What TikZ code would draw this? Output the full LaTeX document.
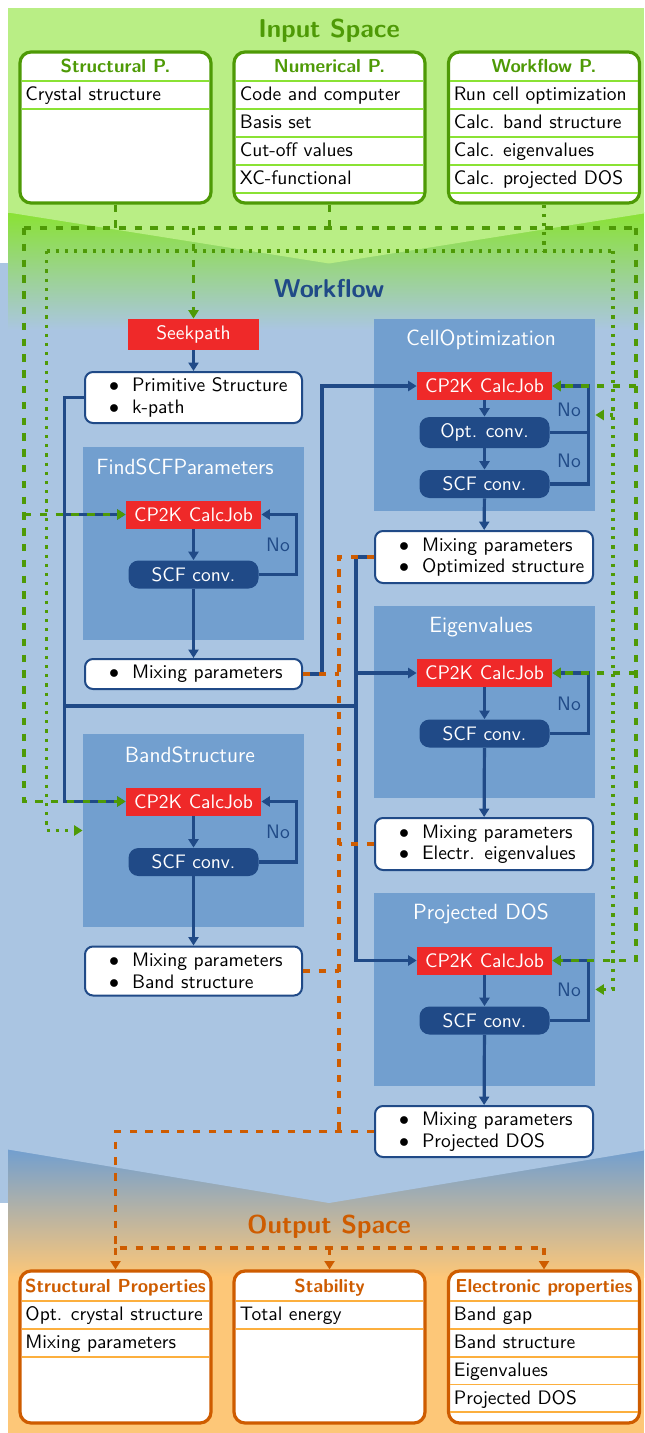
\documentclass[tikz,border=0pt]{standalone}
\usetikzlibrary{arrows.meta}
\definecolor{gdark}{HTML}{4E9A06}
\definecolor{glight}{HTML}{8AE234}
\definecolor{bdark}{HTML}{204A87}
\definecolor{bmid}{HTML}{729FCF}
\definecolor{odark}{HTML}{CE5C00}
\definecolor{olight}{HTML}{FCAF3E}
\definecolor{rred}{HTML}{EF2929}
\colorlet{inbg}{glight!60}
\colorlet{wfbg}{bmid!60}
\colorlet{outbg}{olight!70}
\newcommand{\myitem}{\hspace*{10pt}$\bullet$\hspace{6.5pt}}
\tikzset{
  normfont/.style={font=\sffamily\fontsize{9.75}{10.75}\selectfont},
  sptitle/.style={font=\sffamily\bfseries\fontsize{12.9}{15}\selectfont, inner sep=0pt, anchor=base},
  inbox/.style={draw=gdark, line width=1.6pt, rounded corners=5.5pt, fill=white, minimum width=95.5pt, minimum height=75.5pt, inner sep=0pt},
  outbox/.style={inbox, draw=odark, minimum height=76pt},
  inhead/.style={text=gdark, font=\sffamily\bfseries\fontsize{9.4}{11}\selectfont, inner sep=0pt, anchor=base},
  outhead/.style={inhead, text=odark},
  rowtxt/.style={anchor=base west, inner sep=0pt},
  inrule/.style={draw=glight, line width=0.9pt},
  outrule/.style={draw=olight, line width=0.9pt},
  subbox/.style={fill=bmid, inner sep=0pt, minimum width=110.5pt, minimum height=96.5pt},
  subtitle/.style={text=white, font=\sffamily\fontsize{11}{12.5}\selectfont, inner sep=0pt, anchor=base},
  calcjob/.style={fill=rred, text=white, minimum width=67.5pt, minimum height=14pt, inner sep=0pt},
  conv/.style={fill=bdark, text=white, rounded corners=5pt, minimum width=65pt, minimum height=14pt, inner sep=0pt},
  resbox/.style={draw=bdark, line width=1pt, fill=white, rounded corners=4pt, align=left, text width=104.5pt, inner xsep=2pt, inner ysep=0pt},
  nolab/.style={text=bdark, inner sep=0pt},
  arrowend/.style={-{Triangle[length=4.2pt,width=5pt]}},
  flow/.style={draw=bdark, line width=1.6pt},
  gdash/.style={draw=gdark, line width=1.6pt, dash pattern=on 3.7pt off 4.2pt},
  gdot/.style={draw=gdark, line width=1.7pt, dash pattern=on 1.6pt off 3pt},
  odash/.style={draw=odark, line width=1.8pt, dash pattern=on 3.7pt off 4.2pt},
}
\begin{document}
\begin{tikzpicture}[x=0.5pt,y=-0.5pt,normfont]
\useasboundingbox (0,0) rectangle (644,1433);
\clip (0,0) rectangle (644,1433);
% ---------- backgrounds
\fill[wfbg] (0,263) rectangle (644,1203);
\shade[top color=glight, bottom color=wfbg] (8,212.5) rectangle (644,330);
\fill[inbg] (8,8) rectangle (644,213);
\fill[inbg] (8,200) -- (650,200) -- (650,212.5) -- (329,263.5) -- (8,212.5) -- cycle;
\shade[top color=bmid, bottom color=outbg] (8,1149.5) rectangle (644,1277);
\fill[outbg] (8,1276.5) rectangle (644,1433);
\fill[wfbg] (8,1140) -- (650,1140) -- (650,1149.5) -- (329,1203) -- (8,1149.5) -- cycle;
% ---------- titles
\node[sptitle, text=gdark] (tin) at (329,38) {Input Space};
\node[sptitle, text=bdark] (twf) at (329,297.5) {Workflow};
\node[sptitle, text=odark] (tout) at (329,1233) {Output Space};
% ---------- input boxes
\node[inbox] (sp) at (115.5,127.5) {};
\node[inbox] (np) at (329.5,127.5) {};
\node[inbox] (wp) at (544,127.5) {};
\node[inhead] (sph) at (115.5,72.5) {Structural P.};
\node[inhead] (nph) at (329.5,72.5) {Numerical P.};
\node[inhead] (wph) at (544,72.5) {Workflow P.};
\draw[inrule] (21.6,81) -- (209.4,81);
\draw[inrule] (21.6,109) -- (209.4,109);
\foreach \yy in {81,109,137,165,193} {
  \draw[inrule] (235.6,\yy) -- (423.4,\yy);
  \draw[inrule] (449.6,\yy) -- (638.4,\yy);
}
\node[rowtxt] (sp1) at (25,100.5) {Crystal structure};
\node[rowtxt] (np1) at (239.5,100.5) {Code and computer};
\node[rowtxt] (np2) at (239.5,128.5) {Basis set};
\node[rowtxt] (np3) at (239.5,156.5) {Cut-off values};
\node[rowtxt] (np4) at (239.5,184.5) {XC-functional};
\node[rowtxt] (wp1) at (453.5,100.5) {Run cell optimization};
\node[rowtxt] (wp2) at (453.5,128.5) {Calc. band structure};
\node[rowtxt] (wp3) at (453.5,156.5) {Calc. eigenvalues};
\node[rowtxt] (wp4) at (453.5,184.5) {Calc. projected DOS};
% ---------- output boxes
\node[outbox] (spo) at (115.5,1347) {};
\node[outbox] (sto) at (329.5,1347) {};
\node[outbox] (elo) at (544,1347) {};
\node[outhead] (spoh) at (115.5,1292.5) {Structural Properties};
\node[outhead] (stoh) at (329.5,1292.5) {Stability};
\node[outhead] (eloh) at (544,1292.5) {Electronic properties};
\foreach \yy in {1301,1329,1357} \draw[outrule] (21.6,\yy) -- (209.4,\yy);
\foreach \yy in {1301,1329} \draw[outrule] (235.6,\yy) -- (423.4,\yy);
\foreach \yy in {1301,1329,1357,1384.5,1412} \draw[outrule] (449.6,\yy) -- (638.4,\yy);
\node[rowtxt] (spo1) at (25,1320) {Opt. crystal structure};
\node[rowtxt] (spo2) at (25,1348) {Mixing parameters};
\node[rowtxt] (sto1) at (239.5,1320) {Total energy};
\node[rowtxt] (elo1) at (453.5,1320) {Band gap};
\node[rowtxt] (elo2) at (453.5,1348) {Band structure};
\node[rowtxt] (elo3) at (453.5,1376) {Eigenvalues};
\node[rowtxt] (elo4) at (453.5,1404) {Projected DOS};
% ---------- workflow sub boxes
\node[subbox] (findbox) at (193.5,543.5) {};
\node[subbox] (bandbox) at (193.5,830.5) {};
\node[subbox, minimum height=96pt] (cellbox) at (484.5,415) {};
\node[subbox, minimum height=96pt] (eigbox) at (484.5,702) {};
\node[subbox] (pdosbox) at (484.5,989.5) {};
\node[subtitle] (findt) at (185,474.5) {FindSCFParameters};
\node[subtitle] (bandt) at (190,762.5) {BandStructure};
\node[subtitle] (cellt) at (481,345) {CellOptimization};
\node[subtitle] (eigt) at (481,632) {Eigenvalues};
\node[subtitle] (pdost) at (481,919) {Projected DOS};
% ---------- workflow nodes
\node[calcjob, minimum width=65.25pt, minimum height=15.5pt] (seek) at (193.5,334.5) {Seekpath};
\node[resbox, minimum height=25.5pt] (prim) at (193.5,397.5) {\myitem Primitive Structure\\\myitem k-path};
\node[calcjob] (findcp) at (193.5,514.5) {CP2K CalcJob};
\node[conv] (findscf) at (193.5,574.5) {SCF conv.};
\node[resbox, minimum height=15pt] (mixf) at (193.5,674) {\myitem Mixing parameters};
\node[calcjob] (bandcp) at (193.5,801.5) {CP2K CalcJob};
\node[conv] (bandscf) at (193.5,862) {SCF conv.};
\node[resbox, minimum height=24.5pt] (mixb) at (193.5,971) {\myitem Mixing parameters\\\myitem Band structure};
\node[calcjob] (cellcp) at (484.5,386) {CP2K CalcJob};
\node[conv, minimum height=15.5pt] (cellopt) at (484.5,432.5) {Opt. conv.};
\node[conv] (cellscf) at (484.5,484) {SCF conv.};
\node[resbox, text width=105pt, minimum height=26pt] (mixo) at (484,557) {\myitem Mixing parameters\\\myitem Optimized structure};
\node[calcjob] (eigcp) at (484.5,673) {CP2K CalcJob};
\node[conv] (eigscf) at (484.5,733.5) {SCF conv.};
\node[resbox, text width=105pt, minimum height=26pt] (mixe) at (484,844) {\myitem Mixing parameters\\\myitem Electr. eigenvalues};
\node[calcjob] (pdoscp) at (484.5,960.5) {CP2K CalcJob};
\node[conv] (pdosscf) at (484.5,1020.5) {SCF conv.};
\node[resbox, text width=105pt, minimum height=25.5pt] (mixp) at (484,1131.5) {\myitem Mixing parameters\\\myitem Projected DOS};
\node[nolab] (no1) at (278,545) {No};
\node[nolab] (no2) at (278,832) {No};
\node[nolab] (no3) at (569,410) {No};
\node[nolab] (no4) at (569,460.5) {No};
\node[nolab] (no5) at (569,703.5) {No};
\node[nolab] (no6) at (569,990) {No};
% ---------- helper coordinates
\coordinate (gh) at (0,228);
\coordinate (ghl) at (24,228);
\coordinate (ghr) at (636,228);
\coordinate (dh) at (0,251);
\coordinate (dhl) at (46.5,251);
\coordinate (dhr) at (613,251);
\coordinate (sl) at (64.5,706);
\coordinate (sr) at (356,706);
\coordinate (ml) at (322,0);
\coordinate (ol) at (339,0);
\coordinate (lpl) at (296.5,0);
\coordinate (lpr) at (588.5,0);
\coordinate (obh) at (0,1248);
% ---------- blue flow
\draw[flow,arrowend] (seek) -- (prim);
\draw[flow,arrowend] (prim.west) -- (sl |- prim.west) -- (sl |- bandcp.west) -- (bandcp.west);
\draw[flow,arrowend] (sl |- findcp.west) -- (findcp.west);
\draw[flow] (sl) -- (sr);
\draw[flow,arrowend] (mixo.west) -- (sr |- mixo.west) -- (sr |- pdoscp.west) -- (pdoscp.west);
\draw[flow,arrowend] (sr |- eigcp.west) -- (eigcp.west);
\draw[flow,arrowend] (mixf.east) -- (ml |- mixf.east) -- (ml |- cellcp.west) -- (cellcp.west);
\draw[flow,arrowend] (findcp) -- (findscf);
\draw[flow,arrowend] (findscf) -- (mixf);
\draw[flow,arrowend] (findscf.east) -- (lpl |- findscf.east) -- (lpl |- findcp.east) -- (findcp.east);
\draw[flow,arrowend] (bandcp) -- (bandscf);
\draw[flow,arrowend] (bandscf) -- (mixb);
\draw[flow,arrowend] (bandscf.east) -- (lpl |- bandscf.east) -- (lpl |- bandcp.east) -- (bandcp.east);
\draw[flow,arrowend] (cellcp) -- (cellopt);
\draw[flow,arrowend] (cellopt) -- (cellscf);
\draw[flow,arrowend] (cellscf) -- (mixo);
\draw[flow] (cellopt.east) -- (lpr |- cellopt.east);
\draw[flow,arrowend] (cellscf.east) -- (lpr |- cellscf.east) -- (lpr |- cellcp.east) -- (cellcp.east);
\draw[flow,arrowend] (eigcp) -- (eigscf);
\draw[flow,arrowend] (eigscf) -- (mixe);
\draw[flow,arrowend] (eigscf.east) -- (lpr |- eigscf.east) -- (lpr |- eigcp.east) -- (eigcp.east);
\draw[flow,arrowend] (pdoscp) -- (pdosscf);
\draw[flow,arrowend] (pdosscf) -- (mixp);
\draw[flow,arrowend] (pdosscf.east) -- (lpr |- pdosscf.east) -- (lpr |- pdoscp.east) -- (pdoscp.east);
% ---------- orange output links
\draw[odash] (mixo.west) -- (ol |- mixo.west) -- (ol |- mixp.west);
\draw[odash] (mixf.east) -- (ol |- mixf.east);
\draw[odash] (mixe.west) -- (ol |- mixe.west);
\draw[odash] (mixb.east) -- (ol |- mixb.east);
\draw[odash] (mixp.west) -- (spo.north |- mixp.west) -- (spo.north |- obh) -- (elo.north |- obh);
\draw[odash,arrowend] (spo.north |- obh) -- (spo.north);
\draw[odash,arrowend] (sto.north |- obh) -- (sto.north);
\draw[odash,arrowend] (elo.north |- obh) -- (elo.north);
% ---------- green input links
\draw[gdash] (sp.south) -- (sp.south |- gh);
\draw[gdash] (np.south) -- (np.south |- gh);
\draw[gdash] (ghl) -- (ghr);
\draw[gdash,arrowend] (seek.north |- gh) -- (seek.north);
\draw[gdash,arrowend] (ghl) -- (ghl |- bandcp.west) -- (bandcp.west);
\draw[gdash,arrowend] (ghl |- findcp.west) -- (findcp.west);
\draw[gdash,arrowend] (ghr) -- (ghr |- pdoscp.east) -- (pdoscp.east);
\draw[gdash,arrowend] (ghr |- cellcp.east) -- (cellcp.east);
\draw[gdash,arrowend] (ghr |- eigcp.east) -- (eigcp.east);
\draw[gdot] (wp.south) -- (wp.south |- dh);
\draw[gdot] (dhl) -- (dhr);
\draw[gdot,arrowend] (dhl) -- (dhl |- bandbox.west) -- (bandbox.west);
\draw[gdot,arrowend] (dhr) -- (dhr |- pdosbox.east) -- (pdosbox.east);
\draw[gdot,arrowend] (dhr |- cellbox.east) -- (cellbox.east);
\end{tikzpicture}
\end{document}
